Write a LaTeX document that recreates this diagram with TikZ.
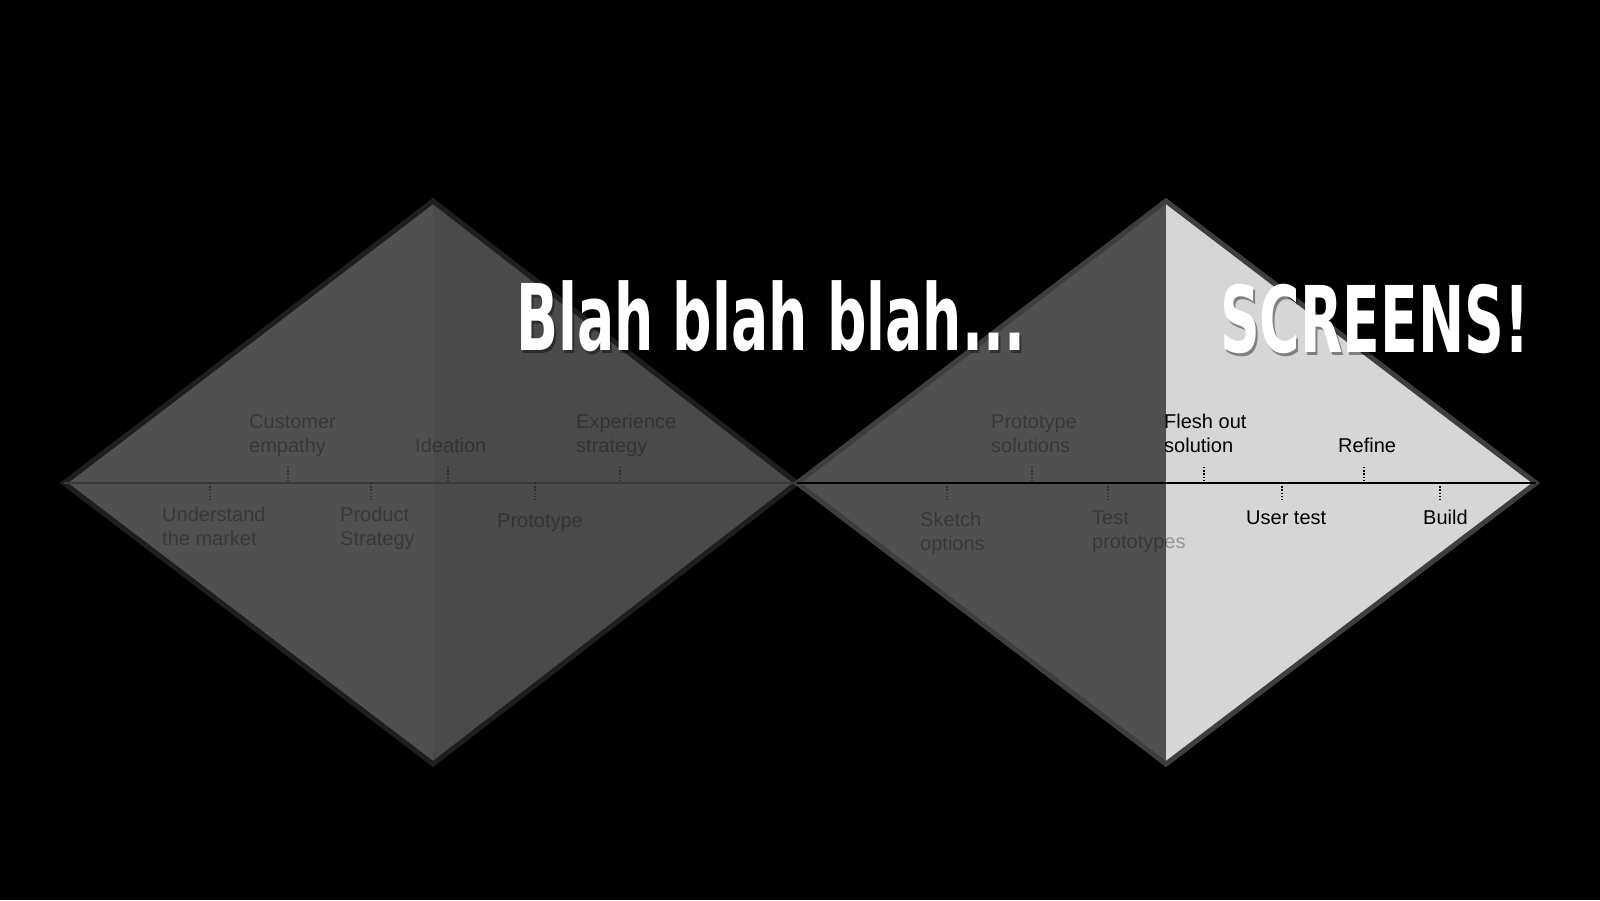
\documentclass[tikz,border=0pt]{standalone}
\usepackage{fontspec}
\setmainfont{Liberation Sans}
\newfontfamily\blahfont[FakeStretch=0.6]{DejaVu Sans}
\definecolor{halfgray}{HTML}{505050}
\definecolor{halfgrayb}{HTML}{4A4A4A}
\definecolor{lightgray}{HTML}{D6D6D6}
\definecolor{rimdark}{HTML}{1E1E1E}
\definecolor{rimgray}{HTML}{3E3E3E}
\definecolor{axisgray}{HTML}{3A3A3A}
\begin{document}
\begin{tikzpicture}[x=1pt,y=-1pt,
    dimtxt/.style={anchor=base west,inner sep=0pt,align=left,text=black,text opacity=.3,font=\fontsize{20}{24}\selectfont},
    txt/.style={anchor=base west,inner sep=0pt,align=left,text=black,font=\fontsize{20}{24}\selectfont},
    dimtick/.style={black,opacity=.4,line width=1.3pt,dash pattern=on 1.4pt off 1.8pt},
    tick/.style={black,line width=1.3pt,dash pattern=on 1.4pt off 1.8pt},
    shout/.style={anchor=base west,inner sep=0pt,text=white,font=\blahfont\bfseries\fontsize{92}{92}\selectfont},
    shoutshadow/.style={anchor=base west,inner sep=0pt,text=black,text opacity=.4,font=\blahfont\bfseries\fontsize{92}{92}\selectfont}]
    \fill[black] (0,0) rectangle (1600,900);
    % left diamond
    \fill[halfgray] (64,483) -- (433,201) -- (433,764) -- cycle;
    \fill[halfgrayb] (433,201) -- (797,483) -- (433,764) -- cycle;
    \draw[rimdark,line width=5pt,line join=miter] (64,483) -- (433,201) -- (797,483) -- (433,764) -- cycle;
    % right diamond
    \fill[halfgray] (797,483) -- (1166,201) -- (1166,764) -- cycle;
    \fill[lightgray] (1166,201) -- (1536,483) -- (1166,764) -- cycle;
    \draw[rimgray,line width=5pt,line join=miter] (797,483) -- (1166,201) -- (1536,483) -- (1166,764) -- cycle;
    % timeline
    \draw[axisgray,line width=1.5pt] (64,483) -- (797,483);
    \draw[black,line width=1.5pt] (797,483) -- (1536,483);
    % ticks above
    \draw[dimtick] (288,467) -- (288,483);
    \draw[dimtick] (448,467) -- (448,483);
    \draw[dimtick] (620,467) -- (620,483);
    \draw[dimtick] (1032,467) -- (1032,483);
    \draw[tick] (1204,467) -- (1204,483);
    \draw[tick] (1364,467) -- (1364,483);
    % ticks below
    \draw[dimtick] (210,483) -- (210,500);
    \draw[dimtick] (371,483) -- (371,500);
    \draw[dimtick] (535,483) -- (535,500);
    \draw[dimtick] (947,483) -- (947,500);
    \draw[dimtick] (1108,483) -- (1108,500);
    \draw[tick] (1282,483) -- (1282,500);
    \draw[tick] (1440,483) -- (1440,500);
    % steps (base = last line)
    \node[dimtxt] (empathy) at (249,452) {Customer\\empathy};
    \node[dimtxt] (ideation) at (415,452) {Ideation};
    \node[dimtxt] (experience) at (576,452) {Experience\\strategy};
    \node[dimtxt] (market) at (162,545) {Understand\\the market};
    \node[dimtxt] (strategy) at (340,545) {Product\\Strategy};
    \node[dimtxt] (prototype) at (497,527) {Prototype};
    \node[dimtxt] (solutions) at (991,452) {Prototype\\solutions};
    \node[txt] (flesh) at (1164,452) {Flesh out\\solution};
    \node[txt] (refine) at (1338,452) {Refine};
    \node[dimtxt] (sketch) at (920,550) {Sketch\\options};
    \node[dimtxt] (testproto) at (1092,548) {Test\\prototypes};
    \node[txt] (usertest) at (1246,524) {User test};
    \node[txt] (build) at (1423,524) {Build};
    % shouting
    \node[shoutshadow] (blahshadow) at (518,353) {Blah blah blah...};
    \node[shout] (blah) at (516,350) {Blah blah blah...};
    \node[shoutshadow] (screensshadow) at (1222,355) {SCREENS!};
    \node[shout] (screens) at (1220,352) {SCREENS!};
\end{tikzpicture}
\end{document}
